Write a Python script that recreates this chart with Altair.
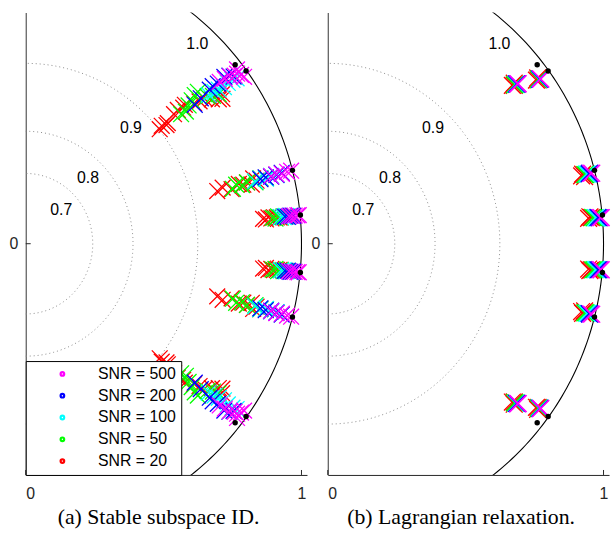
import math
import altair as alt
import pandas as pd

# ---------------- legend / colours ----------------
SNR_LABELS = ["SNR = 500", "SNR = 200", "SNR = 100", "SNR = 50", "SNR = 20"]
SNR_COLORS = ["#ff00ff", "#0000ff", "#00ffff", "#00ff00", "#ff0000"]

# ---------------- axes ----------------
X_TICKS = [0, 1]
Y_TICKS = [0]
X_DOMAIN = [0, 1.02]
Y_DOMAIN = [-0.8, 0.8]

# ---------------- rings (plotted radius as read) ----------------
RING_RADIUS = [0.243, 0.389, 0.624]          # dotted rings 0.7, 0.8, 0.9
UNIT_RADIUS = [1.0]                          # solid ring 1.0
RING_TEXT = ["0.7", "0.8", "0.9", "1.0"]
RING_TEXT_RADIUS = [0.173, 0.319, 0.554, 0.930]
RING_TEXT_ANGLE = [42, 45, 46.5, 48]

# ---------------- true poles, upper half (radius, angle deg) ----------------
TRUE_R = [0.980, 0.998, 1.000, 1.001]
TRUE_T = [39.2, 36.8, 14.7, 5.7]

# ---------------- panel (a) estimates, upper half ----------------
A_R_20 = [0.627, 0.640, 0.655, 0.663, 0.700, 0.720, 0.740, 0.751, 0.780, 0.800,
          0.820, 0.840, 0.860, 0.872, 0.880,
          0.718, 0.740, 0.770, 0.800, 0.815, 0.830, 0.845, 0.855, 0.865, 0.880,
          0.865, 0.875, 0.885, 0.895, 0.905, 0.915, 0.925]
A_T_20 = [39.2, 39.6, 38.8, 39.0, 39.8, 40.0, 39.5, 39.8, 38.5, 38.0,
          37.7, 36.5, 35.5, 35.1, 36.0,
          14.7, 15.2, 14.2, 15.0, 14.5, 14.8, 14.0, 15.3, 14.6, 14.9,
          5.7, 5.5, 5.9, 5.6, 5.8, 5.7, 5.6]
A_R_50 = [0.720, 0.739, 0.760, 0.780, 0.800, 0.816, 0.833, 0.850, 0.870,
          0.775, 0.790, 0.810, 0.830, 0.860, 0.880, 0.900,
          0.900, 0.910, 0.920, 0.930, 0.940, 0.950]
A_T_50 = [38.5, 38.2, 39.0, 39.5, 40.0, 40.1, 37.7, 37.0, 36.5,
          14.2, 15.0, 14.5, 14.8, 14.3, 14.9, 14.6,
          5.7, 5.5, 5.9, 5.6, 5.8, 5.7]
A_R_100 = [0.840, 0.863, 0.880, 0.900, 0.920, 0.940, 0.955,
           0.860, 0.880, 0.900, 0.920, 0.940,
           0.930, 0.940, 0.950, 0.960, 0.970]
A_T_100 = [37.8, 37.5, 37.3, 37.0, 37.2, 37.1, 36.8,
           14.6, 14.9, 14.5, 14.8, 14.6,
           5.7, 5.6, 5.8, 5.7, 5.7]
A_R_200 = [0.779, 0.810, 0.854, 0.870, 0.890, 0.923, 0.940, 0.950,
           0.880, 0.900, 0.920, 0.940, 0.960,
           0.945, 0.955, 0.965, 0.975]
A_T_200 = [38.1, 38.4, 38.6, 38.8, 38.5, 38.7, 38.2, 37.5,
           14.7, 14.8, 14.6, 14.7, 14.8,
           5.7, 5.6, 5.8, 5.7]
A_R_500 = [0.899, 0.920, 0.940, 0.955, 0.966, 0.975, 0.980, 0.975,
           0.920, 0.940, 0.960, 0.980, 0.995,
           0.960, 0.970, 0.980, 0.990, 0.995]
A_T_500 = [38.5, 38.3, 38.0, 37.5, 37.5, 36.8, 36.1, 38.2,
           14.7, 14.8, 14.6, 14.7, 14.7,
           5.7, 5.7, 5.7, 5.7, 5.7]

# ---------------- panel (b) estimates, upper half ----------------
B_R_20 = [0.865, 0.870, 0.875, 0.945, 0.950, 0.953, 0.950, 0.955, 0.960, 0.950, 0.955, 0.960]
B_T_20 = [39.3, 39.0, 39.4, 36.8, 36.6, 37.0, 14.3, 14.6, 14.0, 5.3, 5.6, 5.4]
B_R_50 = [0.872, 0.877, 0.952, 0.955, 0.962, 0.966, 0.965, 0.970]
B_T_50 = [39.1, 38.9, 36.7, 36.6, 14.4, 14.3, 5.4, 5.3]
B_R_100 = [0.878, 0.881, 0.955, 0.957, 0.970, 0.974, 0.975, 0.980]
B_T_100 = [39.0, 38.8, 36.5, 36.6, 14.4, 14.3, 5.3, 5.2]
B_R_200 = [0.880, 0.883, 0.957, 0.958, 0.978, 0.981, 0.984, 0.988]
B_T_200 = [38.9, 38.8, 36.5, 36.5, 14.3, 14.4, 5.3, 5.2]
B_R_500 = [0.883, 0.885, 0.959, 0.960, 0.984, 0.988, 0.992, 0.996]
B_T_500 = [38.8, 38.7, 36.5, 36.4, 14.3, 14.3, 5.2, 5.2]

X_PATH = "M-1,-1L1,1M-1,1L1,-1"
SANS = "Liberation Sans"
SERIF = "Liberation Serif"
INK = "#262626"


def conj_frame(series):
    rows = []
    for rank, (label, rs, ts) in enumerate(series):
        for r, t in zip(rs, ts):
            a = math.radians(t)
            for s in (1, -1):
                rows.append({"snr": label, "rank": rank,
                             "x": r * math.cos(a), "y": s * r * math.sin(a)})
    return pd.DataFrame(rows)


def ring_frame(radii):
    rows = []
    for i, R in enumerate(radii):
        for k in range(-90, 91):
            a = math.radians(k)
            rows.append({"ring": i, "t": k, "x": R * math.cos(a), "y": R * math.sin(a)})
    return pd.DataFrame(rows)


true_df = conj_frame([("true", TRUE_R, TRUE_T)])
rings_df = ring_frame(RING_RADIUS)
unit_df = ring_frame(UNIT_RADIUS)
labels_df = pd.DataFrame({
    "text": RING_TEXT,
    "x": [r * math.cos(math.radians(a)) for r, a in zip(RING_TEXT_RADIUS, RING_TEXT_ANGLE)],
    "y": [r * math.sin(math.radians(a)) for r, a in zip(RING_TEXT_RADIUS, RING_TEXT_ANGLE)],
})
est_a = conj_frame([("SNR = 20", A_R_20, A_T_20), ("SNR = 50", A_R_50, A_T_50),
                    ("SNR = 100", A_R_100, A_T_100), ("SNR = 200", A_R_200, A_T_200),
                    ("SNR = 500", A_R_500, A_T_500)])
est_b = conj_frame([("SNR = 20", B_R_20, B_T_20), ("SNR = 50", B_R_50, B_T_50),
                    ("SNR = 100", B_R_100, B_T_100), ("SNR = 200", B_R_200, B_T_200),
                    ("SNR = 500", B_R_500, B_T_500)])
xtick_df = pd.DataFrame({"x": X_TICKS})
ytick_df = pd.DataFrame({"y": Y_TICKS})

W, H = 284, 467


def panel(est, caption, with_legend, y_extent, cap_dx, marker_size):
    xs = alt.Scale(domain=X_DOMAIN, nice=False, zero=False)
    ys = alt.Scale(domain=Y_DOMAIN, nice=False, zero=False)
    x_axis = alt.Axis(values=X_TICKS, format="d", ticks=False, grid=False, title=None,
                      labelFont=SANS, labelFontSize=16, labelColor=INK, labelPadding=11,
                      domainColor=INK, domainWidth=1)
    y_axis = alt.Axis(values=Y_TICKS, format="d", ticks=False, grid=False, title=None,
                      labelFont=SANS, labelFontSize=16, labelColor=INK, labelPadding=8,
                      domainColor="#555555", domainWidth=1.2,
                      minExtent=y_extent, maxExtent=y_extent)

    def X():
        return alt.X("x:Q", scale=xs, axis=x_axis)

    def Y():
        return alt.Y("y:Q", scale=ys, axis=y_axis)

    if with_legend:
        leg = alt.Legend(title=None, orient="bottom-left", offset=0,
                         fillColor="white", strokeColor="black",
                         padding=5, symbolType="circle", symbolSize=5,
                         symbolStrokeWidth=3.6, symbolOffset=24, labelOffset=28,
                         labelFont=SANS, labelFontSize=16, labelColor="black",
                         rowPadding=4)
    else:
        leg = None

    rings = alt.Chart(rings_df).mark_line(strokeDash=[1, 3], color="#8a8a8a", strokeWidth=1).encode(
        x=X(), y=Y(), detail="ring:N", order="t:Q")
    unit = alt.Chart(unit_df).mark_line(color="black", strokeWidth=1.1, clip=True).encode(
        x=X(), y=Y(), order="t:Q")
    texts = alt.Chart(labels_df).mark_text(font=SANS, fontSize=16, color="black").encode(
        x=X(), y=Y(), text="text:N")
    xticks = alt.Chart(xtick_df).mark_rule(color=INK).encode(
        x=X(), y=alt.value(H - 5), y2=alt.value(H))
    yticks = alt.Chart(ytick_df).mark_rule(color=INK).encode(
        y=Y(), x=alt.value(0), x2=alt.value(5))
    marks = alt.Chart(est).mark_point(shape=X_PATH, filled=False, strokeWidth=1.3,
                                      size=marker_size, opacity=1).encode(
        x=X(), y=Y(),
        stroke=alt.Stroke("snr:N", scale=alt.Scale(domain=SNR_LABELS, range=SNR_COLORS), legend=leg),
        order="rank:Q")
    poles = alt.Chart(true_df).mark_circle(color="black", size=30, opacity=1).encode(x=X(), y=Y())
    layers = [rings, unit, texts, xticks, yticks, marks, poles]
    return alt.layer(*layers).properties(
        width=W, height=H,
        title=alt.TitleParams(caption, orient="bottom", font=SERIF, fontSize=22,
                              fontWeight="normal", color="black", anchor="middle",
                              frame="bounds", offset=6, dx=cap_dx))


pa = panel(est_a, "(a) Stable subspace ID.", True, 26, 4, 256)
pb = panel(est_b, "(b) Lagrangian relaxation.", False, 18, 0, 289)

chart = alt.hconcat(pa, pb, spacing=0).resolve_scale(
    stroke="independent").resolve_legend(
    stroke="independent").configure_view(stroke=None).configure_axis(
    labelFont=SANS, labelFontSize=16, labelColor=INK).properties(
    padding={"left": 0, "top": 10, "right": 0, "bottom": 0}, background="white")

chart.save("out.html", embed_options={"renderer": "svg", "actions": False})
